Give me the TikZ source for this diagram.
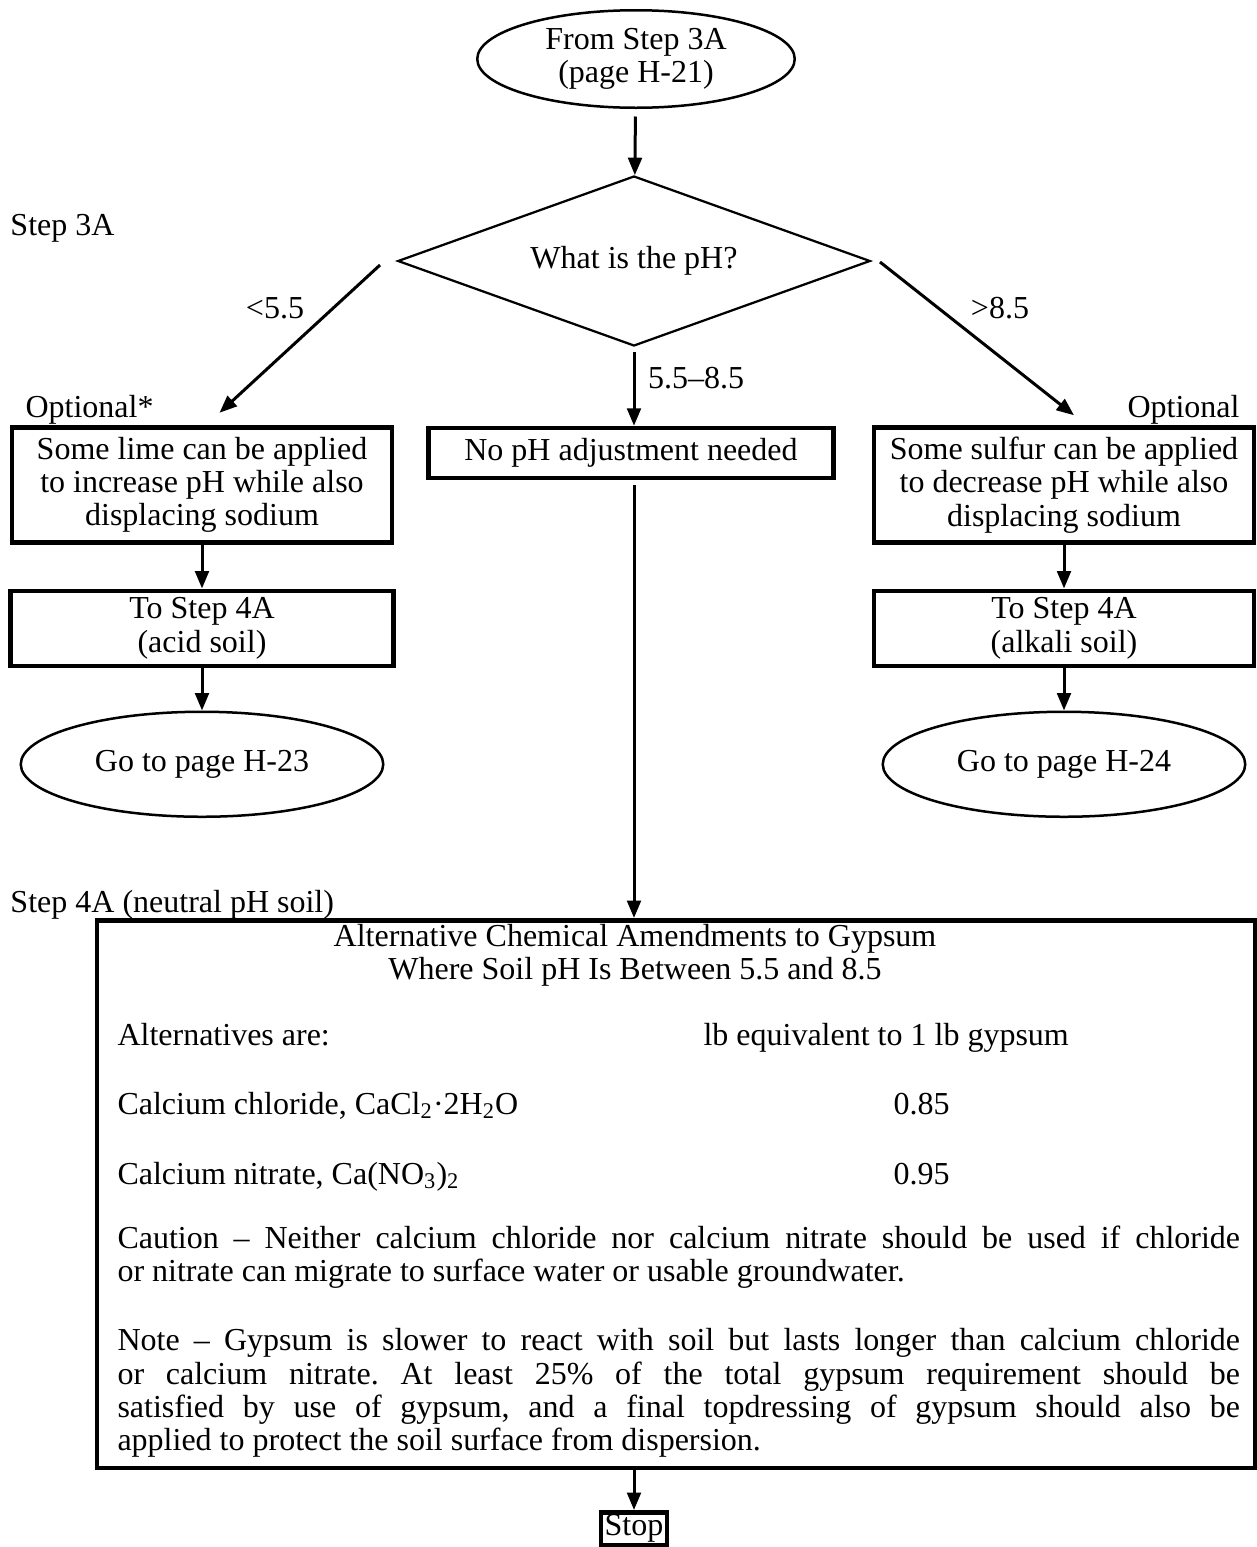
\documentclass[tikz,border=0pt]{standalone}
\usepackage{fontspec}
\setmainfont{Liberation Serif}
\usepackage{tikz}
\usetikzlibrary{shapes.geometric, positioning, arrows.meta, calc}
\frenchspacing
\tikzset{
  terminal/.style={ellipse, draw=black, line width=1pt, inner sep=0pt, align=center},
  decision/.style={diamond, aspect=2.78, draw=black, line width=0.9pt, inner sep=0pt, minimum width=189pt, minimum height=68pt},
  process/.style={rectangle, draw=black, line width=1.8pt, inner sep=0pt, align=center},
  arrow/.style={line width=1.2pt, -{Triangle[length=7pt,width=5.5pt]}},
  tag/.style={inner sep=0pt}
}
\begin{document}
\begin{tikzpicture}[x=0.4pt, y=-0.4pt, every node/.style={font=\fontsize{12.8}{13.3}\selectfont}]
    \useasboundingbox (0,0) rectangle (1256,1547);

    \node (start) [terminal, minimum width=127pt, minimum height=39pt] at (636,59) {From Step 3A\\(page H-21)};
    \node (ph) [decision] at (634,261) {What is the pH?};
    \node (step3a) [tag, anchor=west] at (10,228) {Step 3A};

    % three branches
    \node (lime) [process, minimum width=152pt, minimum height=46pt] at (202,485) {Some lime can be applied\\to increase pH while also\\displacing sodium};
    \node (noadj) [process, minimum width=162pt, minimum height=20pt] at (631,453) {No pH adjustment needed};
    \node (sulfur) [process, minimum width=152pt, minimum height=46pt] at (1064,485) {Some sulfur can be applied\\to decrease pH while also\\displacing sodium};
    \node (optl) [tag, anchor=west] at (25,410) {Optional*};
    \node (optr) [tag, anchor=east] at (1240,410) {Optional};

    \node (acid) [process, minimum width=153pt, minimum height=30pt, below=17.5pt of lime] {To Step 4A\\(acid soil)};
    \node (alkali) [process, minimum width=152pt, minimum height=30pt, below=17.5pt of sulfur] {To Step 4A\\(alkali soil)};
    \node (goacid) [terminal, minimum width=145pt, minimum height=42pt, below=17pt of acid] {Go to page H-23};
    \node (goalkali) [terminal, minimum width=145pt, minimum height=42pt, below=17pt of alkali] {Go to page H-24};

    % neutral soil block
    \node (step4a) [tag, anchor=west] at (10,905) {Step 4A (neutral pH soil)};
    \node (alt) [process, minimum width=463pt, minimum height=219pt] at (676,1194) {};
    \node (title) [tag, align=center] at (635,955) {Alternative Chemical Amendments to Gypsum\\Where Soil pH Is Between 5.5 and 8.5};
    \node (altare) [tag, anchor=base west] at (117,1045) {Alternatives are:};
    \node (lbeq) [tag, anchor=base west] at (703,1045) {lb equivalent to 1 lb gypsum};
    \node (cacl) [tag, anchor=base west] at (117,1114) {Calcium chloride, CaCl\textsubscript{2}·2H\textsubscript{2}O};
    \node (vcacl) [tag, anchor=base west] at (893,1114) {0.85};
    \node (cano) [tag, anchor=base west] at (117,1184) {Calcium nitrate, Ca(NO\textsubscript{3})\textsubscript{2}};
    \node (vcano) [tag, anchor=base west] at (893,1184) {0.95};
    \node (caution) [tag, anchor=west, text width=449pt, align=justify] at (117,1257) {Caution -- Neither calcium chloride nor calcium nitrate should be used if chloride\linebreak or nitrate can migrate to surface water or usable groundwater.};
    \node (note) [tag, anchor=west, text width=449pt, align=justify] at (117,1393) {Note -- Gypsum is slower to react with soil but lasts longer than calcium chloride\linebreak or calcium nitrate. At least 25\% of the total gypsum requirement should be\linebreak satisfied by use of gypsum, and a final topdressing of gypsum should also be\linebreak applied to protect the soil surface from dispersion.};
    \node (stop) [process, inner xsep=1.5pt, inner ysep=1pt, below=16pt of alt.south -| ph.south, anchor=north] {Stop};

    % connectors
    \draw [arrow, shorten <=3pt] (start) -- (ph);
    \coordinate (lt) at (380,265);
    \coordinate (rt) at (880,262);
    \draw [arrow] (lt) -- ([xshift=7pt,yshift=5pt]lime.north);
    \draw [arrow] (rt) -- ([xshift=4pt,yshift=4pt]sulfur.north);
    \draw [arrow, shorten <=2pt] (ph.south) -- (ph.south |- noadj.north) node [tag, pos=0.4, anchor=west, xshift=5pt] {5.5--8.5};
    \node (lo) [tag] at (275,308) {<5.5};
    \node (hi) [tag] at (1000,308) {>8.5};
    \draw [arrow] (lime) -- (acid);
    \draw [arrow] (acid) -- (goacid);
    \draw [arrow] (sulfur) -- (alkali);
    \draw [arrow] (alkali) -- (goalkali);
    \draw [arrow, shorten <=2pt] (ph.south |- noadj.south) -- (ph.south |- alt.north);
    \draw [arrow] (ph.south |- alt.south) -- (stop);

\end{tikzpicture}
\end{document}
